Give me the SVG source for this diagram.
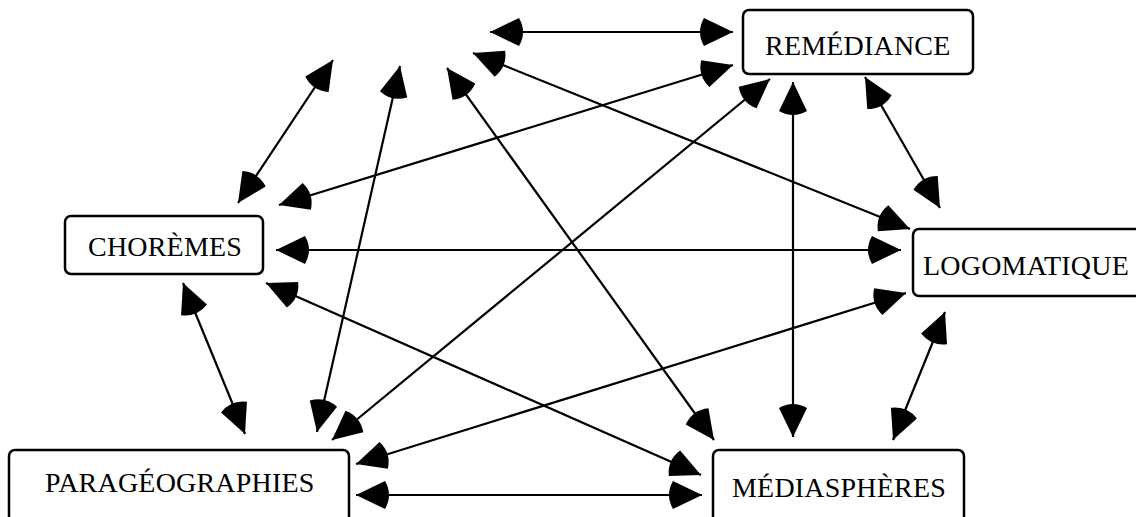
<svg xmlns="http://www.w3.org/2000/svg" width="1136" height="517" viewBox="0 0 1136 517">
<style>
.box{fill:#fff;stroke:#000;stroke-width:2.5}
.lbl{font-family:"Liberation Serif","Times New Roman",serif;font-size:28px;letter-spacing:0.2px;fill:#000}
.edge{stroke:#000;stroke-width:2.2;fill:none;marker-start:url(#ah);marker-end:url(#ah)}
</style>
<defs>
<marker id="ah" markerUnits="userSpaceOnUse" orient="auto-start-reverse" refX="0" refY="0" markerWidth="40" markerHeight="32" viewBox="-40 -16 40 32" overflow="visible">
<path d="M0,0 L-29,-14 Q-37,0 -29,14 Z" fill="#000"/>
</marker>
</defs>
<rect width="1136" height="517" fill="#fff"/>
<g id="connectors">
<path class="edge" d="M490,32 L733,32"/>
<path class="edge" d="M333,60 L238,203"/>
<path class="edge" d="M400,66 L317,432"/>
<path class="edge" d="M447,68 L714,440"/>
<path class="edge" d="M473,53 L910,229"/>
<path class="edge" d="M733,65 L279,205"/>
<path class="edge" d="M770,79 L332,440"/>
<path class="edge" d="M793,82 L793,437"/>
<path class="edge" d="M865,77 L940,208"/>
<path class="edge" d="M276,250 L901,250"/>
<path class="edge" d="M183,283 L245,434"/>
<path class="edge" d="M266,283 L701,475"/>
<path class="edge" d="M906,293 L356,464"/>
<path class="edge" d="M945,312 L893,440"/>
<path class="edge" d="M356,495 L702,495"/>
</g>
<g id="remediance">
<rect class="box" x="743" y="10" width="230" height="64" rx="6"/>
<text class="lbl" x="765" y="55">REMÉDIANCE</text>
</g>
<g id="choremes">
<rect class="box" x="65" y="216" width="198" height="58" rx="6"/>
<text class="lbl" x="88" y="256">CHORÈMES</text>
</g>
<g id="logomatique">
<rect class="box" x="913" y="229" width="260" height="67" rx="6"/>
<text class="lbl" x="923" y="275">LOGOMATIQUE</text>
</g>
<g id="parageographies">
<rect class="box" x="9" y="450" width="340" height="90" rx="6"/>
<text class="lbl" x="45" y="492">PARAGÉOGRAPHIES</text>
</g>
<g id="mediaspheres">
<rect class="box" x="713" y="450" width="251" height="90" rx="6"/>
<text class="lbl" x="732" y="497">MÉDIASPHÈRES</text>
</g>
</svg>
